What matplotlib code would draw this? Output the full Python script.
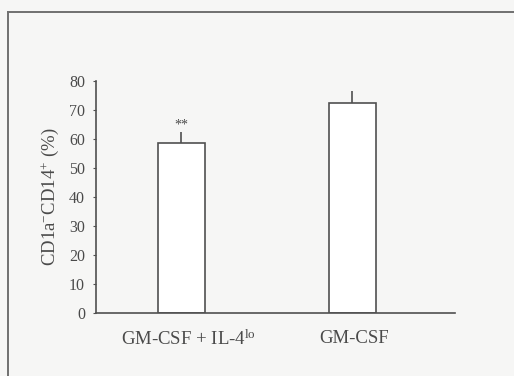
import matplotlib.pyplot as plt
from matplotlib.lines import Line2D

# data
groups = ["GM-CSF + IL-4$^{\\mathrm{lo}}$", "GM-CSF"]
values = [58.5, 72.5]
errors = [3.8, 4.0]
yticks = [0, 10, 20, 30, 40, 50, 60, 70, 80]

plt.rcParams['font.family'] = ['Liberation Serif', 'DejaVu Serif']
plt.rcParams['mathtext.fontset'] = 'custom'
plt.rcParams['mathtext.rm'] = 'Liberation Serif'
plt.rcParams['mathtext.it'] = 'Liberation Serif:italic'

txt = '#4a4a4a'
line = '#505050'
bg = '#f6f6f5'

fig = plt.figure(figsize=(5.14, 3.76), dpi=100, facecolor=bg)
ax = fig.add_axes([96/514, 63/376, 359/514, 232/376])
ax.set_facecolor(bg)

# outer frame of the figure panel
fig.add_artist(Line2D([8/514, 8/514], [0, 1 - 12/376], transform=fig.transFigure,
                      color='#707070', lw=1.4))
fig.add_artist(Line2D([8/514, 1], [1 - 12/376, 1 - 12/376], transform=fig.transFigure,
                      color='#707070', lw=1.4))

x = [0, 1]
ax.bar(x, values, width=0.275, color='white', edgecolor=line, linewidth=1.2, zorder=2)
ax.errorbar(x, values, yerr=[[0, 0], errors], fmt='none', ecolor=line,
            elinewidth=1.2, capsize=0, zorder=3)
ax.text(0, 62.4, '**', ha='center', va='bottom', fontsize=10, color=txt)

ax.set_xlim(-0.5, 1.6)
ax.set_ylim(0, 80)
ax.set_yticks(yticks)
ax.set_xticks([0.04, 1.01])
ax.set_xticklabels(groups, fontsize=13.5, color=txt)
ax.tick_params(axis='x', length=0, pad=12)
ax.tick_params(axis='y', length=2, width=0.8, color=line, labelsize=11.5,
               labelcolor=txt, pad=6)

for s in ['top', 'right']:
    ax.spines[s].set_visible(False)
for s in ['left', 'bottom']:
    ax.spines[s].set_color(line)
    ax.spines[s].set_linewidth(1.2)

ax.set_ylabel('CD1a$^{-}$CD14$^{+}$ (%)', fontsize=13.5, color=txt, labelpad=6)

fig.savefig('out.png', dpi=100, facecolor=bg)
